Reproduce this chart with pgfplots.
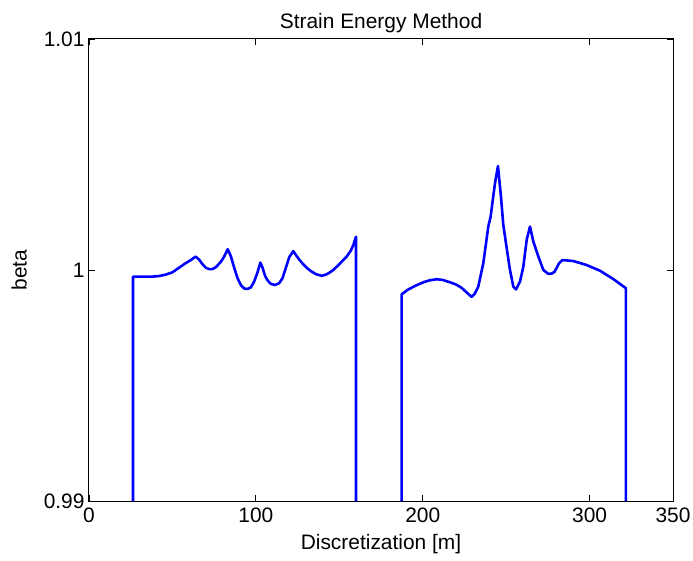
\documentclass[border=0pt]{standalone}
\usepackage{fontspec}
\setmainfont{Liberation Sans}
\usepackage{pgfplots}
\pgfplotsset{compat=1.18}

\definecolor{mblue}{RGB}{0,0,255}
\newcommand{\lblfont}{\fontsize{21}{25}\selectfont}

\begin{document}
\begin{tikzpicture}
\begin{axis}[
  scale only axis,
  width=584bp, height=462bp,
  xmin=0, xmax=350, ymin=0.99, ymax=1.01,
  xtick={0,100,200,300,350},
  ytick={0.99,1,1.01},
  yticklabels={0.99,1,1.01},
  tick pos=both,
  tick align=inside,
  major tick length=6bp,
  axis line style={line width=1bp},
  every tick/.style={black, line width=0.8bp},
  /pgf/number format/assume math mode=true,
  tick label style={font=\lblfont},
  xticklabel style={yshift=-3bp},
  yticklabel style={xshift=-1bp},
  label style={font=\lblfont},
  title style={font=\lblfont, yshift=-3bp},
  title={Strain Energy Method},
  xlabel={Discretization [m]},
  ylabel={beta},
  xlabel style={yshift=-5bp},
  ylabel style={yshift=10bp},
  clip=false,
]
% left span
\addplot[mblue, line width=2.6bp, line join=round] coordinates {
(26.4,0.99) (26.4,0.99971) (37.5,0.99971) (42,0.99974) (46,0.99980) (50,0.99990)
(54,1.00010) (58,1.00030) (61,1.00043) (63.9,1.00058) (66,1.00045) (68,1.00025)
(70,1.00010) (72,1.00004) (74,1.00004) (76,1.00012) (79,1.00035) (81,1.00058)
(83.1,1.00090) (85,1.00060) (87,1.00010) (89,0.99965) (91,0.99935) (93,0.99920)
(95,0.99918) (97,0.99925) (99,0.99950) (101,0.99990) (102.7,1.00032) (104,1.00010)
(105.5,0.99975) (107,0.99955) (109,0.99940) (111.5,0.99935) (114,0.99943)
(116,0.99965) (118,1.00010) (120,1.00055) (122.4,1.00082) (124,1.00065)
(126,1.00045) (128,1.00028) (130.4,1.00010) (133,0.99995) (136,0.99982)
(139.4,0.99975) (142,0.99980) (144,0.99988) (146.4,1.0) (149,1.00018)
(152,1.00040) (154.4,1.00058) (157,1.00085) (158.5,1.00110) (160,1.00144)
(160,0.99)
};
% right span
\addplot[mblue, line width=2.6bp, line join=round] coordinates {
(187.4,0.99) (187.4,0.99895) (191.4,0.99916) (196,0.99933) (200.4,0.99947)
(204,0.99955) (208.4,0.99960) (212,0.99957) (216.3,0.99947) (220,0.99937)
(223.3,0.99923) (226.9,0.99899) (229.3,0.99884) (231,0.99895) (233.3,0.99928)
(236.3,1.00029) (239.3,1.00188) (240.7,1.00231) (243.3,1.00375) (245.1,1.00450)
(246.9,1.00318) (248.3,1.00195) (249.9,1.00116) (252.3,1.0) (254.3,0.99928)
(255.9,0.99916) (258.3,0.99950) (260.3,1.00014) (262.3,1.00130) (264.3,1.00188)
(266.3,1.00123) (269.3,1.00058) (272.3,1.0) (275.3,0.99983) (277.5,0.99985)
(279.1,0.99993) (281.7,1.00029) (283.7,1.00043) (290.1,1.00039) (298.1,1.00022)
(306.2,0.99997) (314.2,0.99961) (321.8,0.99921) (321.8,0.99)
};
\end{axis}
\pgfresetboundingbox
\useasboundingbox ([shift={(-89bp,-60bp)}]current axis.south west)
  rectangle ([shift={(20bp,39bp)}]current axis.north east);
\end{tikzpicture}
\end{document}
